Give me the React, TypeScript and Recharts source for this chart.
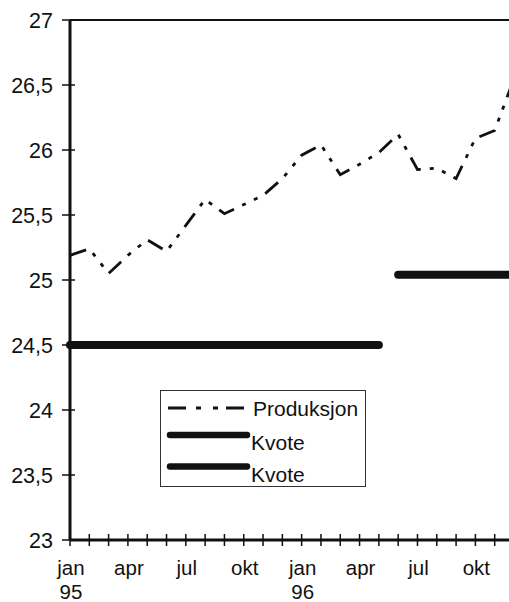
import { LineChart, Line, XAxis, YAxis, ReferenceLine, Legend } from 'recharts'

// månedsakse jan 95 – des 96
const months = ['jan', 'feb', 'mar', 'apr', 'mai', 'jun', 'jul', 'aug', 'sep', 'okt', 'nov', 'des',
  'jan', 'feb', 'mar', 'apr', 'mai', 'jun', 'jul', 'aug', 'sep', 'okt', 'nov', 'des']
const years = ['95', '95', '95', '95', '95', '95', '95', '95', '95', '95', '95', '95',
  '96', '96', '96', '96', '96', '96', '96', '96', '96', '96', '96', '96']

const produksjon = [25.19, 25.24, 25.05, 25.19, 25.31, 25.22, 25.42, 25.62, 25.51, 25.58, 25.65, 25.78,
  25.96, 26.04, 25.81, 25.89, 25.98, 26.12, 25.85, 25.86, 25.78, 26.09, 26.15, 26.55]
const kvote95 = [24.5, 24.5, 24.5, 24.5, 24.5, 24.5, 24.5, 24.5, 24.5, 24.5, 24.5, 24.5,
  24.5, 24.5, 24.5, 24.5, 24.5, null, null, null, null, null, null, null]
const kvote96 = [null, null, null, null, null, null, null, null, null, null, null, null,
  null, null, null, null, null, 25.04, 25.04, 25.04, 25.04, 25.04, 25.04, 25.04]

const yTicks = [23, 23.5, 24, 24.5, 25, 25.5, 26, 26.5, 27]
const legendOrder = ['produksjon', 'kvote1', 'kvote2']

const data = months.map((mon, i) => ({
  m: i,
  mon,
  year: years[i],
  produksjon: produksjon[i],
  kvote1: kvote95[i],
  kvote2: kvote96[i],
}))

const FONT = '"Liberation Sans", Arial, sans-serif'
const INK = '#111'
const DASH = '17 9 4 9 4 9'

const XTick = ({ x, y, payload }: any) => {
  const i = payload.value
  return (
    <g>
      <line x1={x} x2={x} y1={y - 6} y2={y + 6} stroke={INK} strokeWidth={1.5} />
      {i % 3 === 0 && (
        <text x={x + 1} y={y + 35} textAnchor="middle" fontSize={20.5} fontFamily={FONT} fill={INK}>{months[i]}</text>
      )}
      {months[i] === 'jan' && (
        <text x={x + 1} y={y + 59} textAnchor="middle" fontSize={20.5} fontFamily={FONT} fill={INK}>{years[i]}</text>
      )}
    </g>
  )
}

const YTick = ({ x, y, payload }: any) => (
  <g>
    <line x1={x - 8} x2={x + 5} y1={y} y2={y} stroke={INK} strokeWidth={1.5} />
    <text x={x - 17} y={y + 7.5} textAnchor="end" fontSize={21.5} fontFamily={FONT} fill={INK}>
      {String(payload.value).replace('.', ',')}
    </text>
  </g>
)

const LegendBox = ({ payload }: any) => {
  const items = [...(payload || [])].sort(
    (a: any, b: any) => legendOrder.indexOf(a.dataKey) - legendOrder.indexOf(b.dataKey))
  return (
    <div style={{ width: 206, height: 97, border: '1px solid #333', boxSizing: 'border-box', background: '#fff' }}>
      <svg width={204} height={95} style={{ display: 'block' }}>
        {items.map((p: any, i: number) => {
          if (p.dataKey === 'produksjon') {
            return (
              <g key={i}>
                <line x1={7} x2={84} y1={17} y2={17} stroke={INK} strokeWidth={3} strokeDasharray="18 10 5 12 5 8" />
                <text x={92} y={24.5} fontSize={21} fontFamily={FONT} fill={INK}>{p.value}</text>
              </g>
            )
          }
          const ly = i === 1 ? 44 : 75.5
          return (
            <g key={i}>
              <line x1={9} x2={86} y1={ly} y2={ly} stroke={INK} strokeWidth={6.5} strokeLinecap="round" />
              <text x={90} y={ly + 15} fontSize={21} fontFamily={FONT} fill={INK}>{p.value}</text>
            </g>
          )
        })}
      </svg>
    </div>
  )
}

export default function App() {
  return (
    <div style={{ position: 'fixed', left: 0, top: 0, width: 509, height: 602, overflow: 'hidden', background: '#fff' }}>
      <LineChart width={524} height={602} data={data} margin={{ top: 20, right: 10, left: 0, bottom: 0 }}>
        <XAxis dataKey="m" type="number" domain={[0, 23]} ticks={data.map((d) => d.m)} interval={0}
          height={62} tick={<XTick />} tickLine={false} tickSize={0} tickMargin={0}
          axisLine={{ stroke: INK, strokeWidth: 3 }} />
        <YAxis type="number" domain={[23, 27]} ticks={yTicks} interval={0} width={70}
          tick={<YTick />} tickLine={false} tickSize={0} tickMargin={0}
          axisLine={{ stroke: INK, strokeWidth: 3 }} />
        <ReferenceLine y={27} stroke={INK} strokeWidth={2} />
        <Line type="linear" dataKey="produksjon" name="Produksjon" stroke={INK} strokeWidth={2.8}
          strokeDasharray={DASH} dot={false} activeDot={false} isAnimationActive={false} />
        <Line type="linear" dataKey="kvote1" name="Kvote" stroke={INK} strokeWidth={8} strokeLinecap="round"
          dot={false} activeDot={false} isAnimationActive={false} />
        <Line type="linear" dataKey="kvote2" name="Kvote" stroke={INK} strokeWidth={8} strokeLinecap="round"
          dot={false} activeDot={false} isAnimationActive={false} />
        <Legend layout="horizontal" verticalAlign="middle" align="center" content={<LegendBox />}
          wrapperStyle={{ left: 160, top: 390, width: 206, height: 97 }} />
      </LineChart>
    </div>
  )
}
